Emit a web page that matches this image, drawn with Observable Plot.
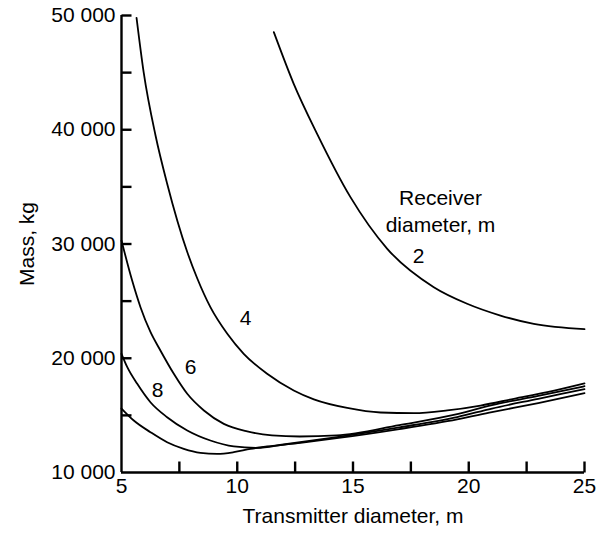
<!DOCTYPE html>
<html><head><meta charset="utf-8">
<script src="https://cdn.jsdelivr.net/npm/d3@7"></script>
<script src="https://cdn.jsdelivr.net/npm/@observablehq/plot@0.6"></script>
<style>body{margin:0;background:#fff;}</style>
</head><body><div id="chart"></div>
<script>
// Receiver diameter curves (transmitter diameter m -> mass kg)
const c2x = [11.58, 12.44, 13.45, 14.89, 16.48, 18.49, 19.93, 21.37, 22.81, 25];
const c2y = [48540, 44020, 39640, 34100, 29580, 26220, 24770, 23740, 23010, 22550];
const c4x = [5.65, 5.96, 6.47, 6.97, 7.84, 8.27, 8.84, 9.57, 10.28, 11.29, 12.44, 13.31, 14.75, 16.19, 17.63, 19.07, 20.51, 21.95, 23.39, 25];
const c4y = [49800, 45000, 39500, 35300, 29300, 27000, 24470, 22140, 20390, 18640, 17180, 16400, 15650, 15250, 15190, 15430, 15860, 16450, 17030, 17800];
const c6x = [5, 5.46, 5.82, 6.25, 6.68, 7.26, 7.84, 8.56, 9.42, 10.43, 11.5, 12.7, 14.3, 17, 19.5, 21, 23, 25];
const c6y = [30300, 26800, 24470, 22300, 20680, 18640, 16890, 15430, 14260, 13600, 13250, 13150, 13250, 14150, 15100, 15900, 16700, 17550];
const c8x = [5, 5.25, 5.68, 6.25, 6.97, 7.84, 8.84, 9.85, 10.86, 12, 14.3, 17, 19.5, 21, 23, 25];
const c8y = [20390, 19220, 17760, 16150, 14840, 13680, 12800, 12280, 12150, 12450, 13100, 13950, 14850, 15600, 16450, 17300];
const c10x = [5, 5.53, 6.25, 6.97, 7.69, 8.41, 9.13, 9.85, 10.57, 11.29, 12.73, 14.3, 17, 19.5, 21, 23, 25];
const c10y = [15600, 14550, 13530, 12650, 12070, 11720, 11630, 11780, 12070, 12280, 12600, 13000, 13800, 14650, 15280, 16080, 16950];

const curveNames = ["2", "4", "6", "8", "10"];
const curveXs = [c2x, c4x, c6x, c8x, c10x];
const curveYs = [c2y, c4y, c6y, c8y, c10y];

// Curve labels (data coordinates)
const labelText = ["2", "4", "6", "8", "Receiver", "diameter, m"];
const labelX = [17.83, 10.36, 7.98, 6.56, 18.78, 18.78];
const labelY = [28900, 23480, 19190, 17180, 33980, 31620];

const xDomain = [5, 25];
const yDomain = [10000, 50000];
const xMajor = [5, 10, 15, 20, 25];
const xMinor = [7.5, 10, 12.5, 15, 17.5, 20, 22.5, 25];
const yMajor = [10000, 20000, 30000, 40000, 50000];
const yMinor = [15000, 20000, 25000, 30000, 35000, 40000, 45000, 50000];

const rows = curveNames.flatMap((n, k) => curveXs[k].map((x, i) => ({name: n, x, y: curveYs[k][i]})));
const labels = labelText.map((t, i) => ({t, x: labelX[i], y: labelY[i]}));
const fmt = d => d3.format(",")(d).replace(/,/g, " ");

const W = 610, H = 535, mL = 121, mR = 26, mT = 15, mB = 63;
const frameW = W - mL - mR, frameH = H - mT - mB;
// inward tick length expressed in each scale's units
const tickLenY = 11 * (yDomain[1] - yDomain[0]) / frameH;
const tickLenX = 10 * (xDomain[1] - xDomain[0]) / frameW;

const font = "'Liberation Sans', Arial, Helvetica, sans-serif";
const chart = Plot.plot({
  width: W, height: H,
  marginLeft: mL, marginRight: mR, marginTop: mT, marginBottom: mB,
  style: {fontFamily: font, fontSize: "21px", color: "#000", background: "#fff", overflow: "visible"},
  x: {domain: xDomain},
  y: {domain: yDomain},
  marks: [
    Plot.axisX(xMajor, {tickSize: 0, tickPadding: 6, fontSize: 21, tickFormat: d => String(d), label: "Transmitter diameter, m", labelAnchor: "center", labelOffset: 50, labelArrow: "none"}),
    Plot.axisY(yMajor, {tickSize: 0, tickPadding: 6, fontSize: 21, tickFormat: fmt, label: "Mass, kg", labelAnchor: "center", labelOffset: 102, labelArrow: "none"}),
    // inward tick marks
    Plot.link(xMinor, {x1: d => d, x2: d => d, y1: () => yDomain[0], y2: () => yDomain[0] + tickLenY, stroke: "#000", strokeWidth: 2.4}),
    Plot.link(yMinor, {y1: d => d, y2: d => d, x1: () => xDomain[0], x2: () => xDomain[0] + tickLenX, stroke: "#000", strokeWidth: 2.4}),
    // axis lines
    Plot.ruleX([xDomain[0]], {y1: yDomain[0], y2: yDomain[1], strokeWidth: 2.4}),
    Plot.ruleY([yDomain[0]], {x1: xDomain[0], x2: xDomain[1], strokeWidth: 2.4}),
    Plot.line(rows, {x: "x", y: "y", z: "name", curve: "monotone-x", stroke: "#000", strokeWidth: 1.8}),
    Plot.text(labels, {x: "x", y: "y", text: "t", fontSize: 21, fill: "#000"})
  ]
});
document.getElementById("chart").appendChild(chart);
</script>
</body></html>
